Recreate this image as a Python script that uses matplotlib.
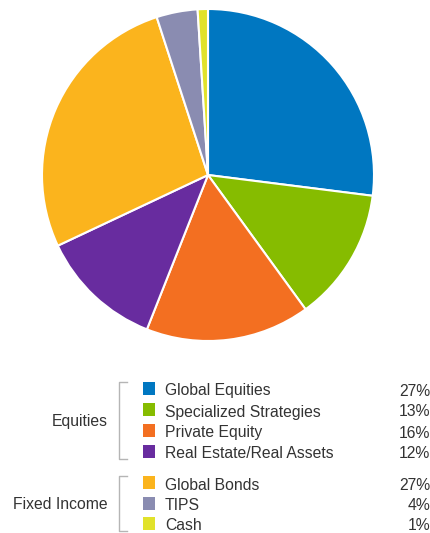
import matplotlib.pyplot as plt

# portfolio allocation
labels = ["Global Equities", "Specialized Strategies", "Private Equity",
          "Real Estate/Real Assets", "Global Bonds", "TIPS", "Cash"]
weights = [27, 13, 16, 12, 27, 4, 1]
colors = ["#0077c1", "#86bc00", "#f36f21", "#682c9f",
          "#fbb41d", "#8a8cb1", "#e1e22b"]
groups = ["Equities", "Fixed Income"]
group_sizes = [4, 3]

W, H = 430, 533
fig = plt.figure(figsize=(W / 100, H / 100), dpi=100)
plt.rcParams["font.family"] = ["Liberation Sans", "DejaVu Sans"]

# pie, centre (208,175) px, radius 166 px
cx, cy, r = 208, 175, 166
ax = fig.add_axes([(cx - r) / W, (H - cy - r) / H, 2 * r / W, 2 * r / H])
ax.pie(weights, colors=colors, startangle=90, counterclock=False,
       wedgeprops=dict(edgecolor="white", linewidth=1.5))
ax.set_xlim(-1, 1)
ax.set_ylim(-1, 1)
ax.set_aspect("equal")
ax.axis("off")

# legend drawn in pixel coordinates
lg = fig.add_axes([0, 0, 1, 1])
lg.set_xlim(0, W)
lg.set_ylim(H, 0)
lg.axis("off")

txt = "#333333"
fs = 11.3
row_y = [391, 412, 433, 454, 485, 506, 526]
for i, (lab, w, c) in enumerate(zip(labels, weights, colors)):
    y = row_y[i]
    lg.add_patch(plt.Rectangle((142.5, y - 9), 12.5, 12.5, color=c, lw=0))
    lg.text(165, y, lab, fontsize=fs, color=txt, va="center")
    lg.text(430, y, f"{w}%", fontsize=fs, color=txt, va="center", ha="right")

start = 0
for g, n in zip(groups, group_sizes):
    ys = row_y[start:start + n]
    top, bot = ys[0] - 9, ys[-1] + 5
    lg.plot([127, 118.5, 118.5, 127], [top, top, bot, bot],
            color="#b5b5b5", lw=1)
    lg.text(108, (top + bot) / 2 + 1, g, fontsize=fs, color=txt,
            va="center", ha="right")
    start += n

fig.savefig("out.png", dpi=100)
